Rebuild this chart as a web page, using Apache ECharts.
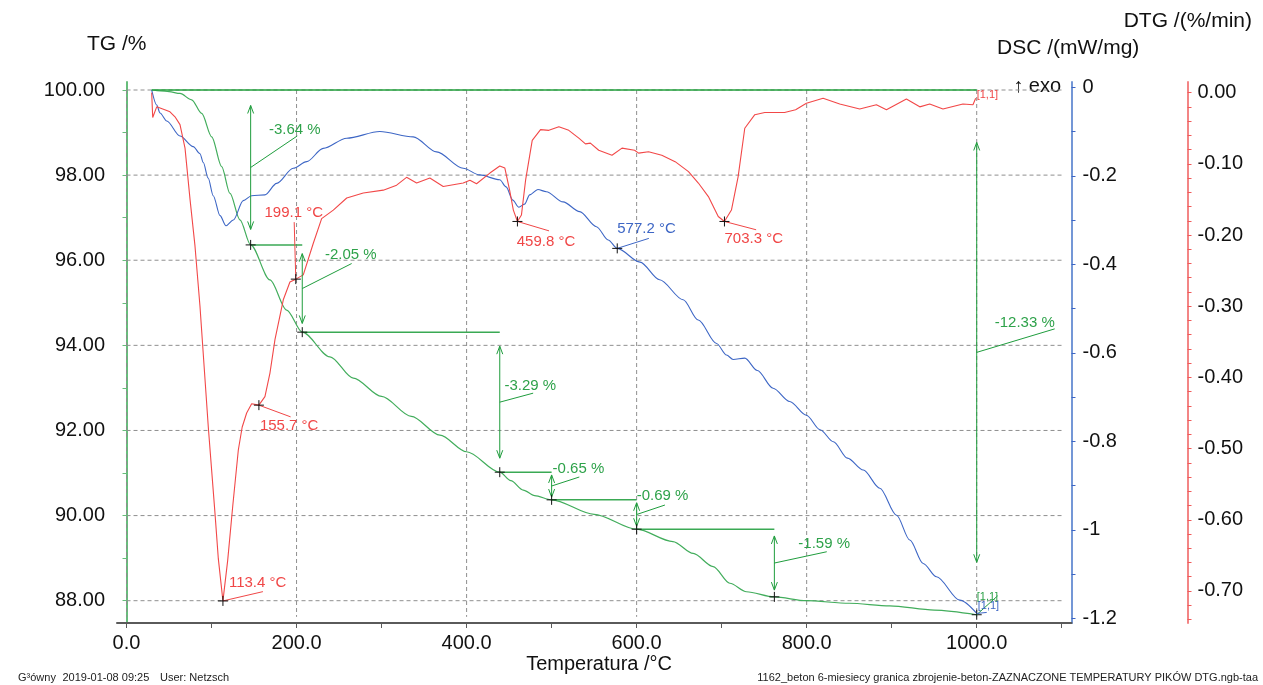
<!DOCTYPE html>
<html>
<head>
<meta charset="utf-8">
<title>TG DSC DTG</title>
<script src="https://cdn.jsdelivr.net/npm/echarts@6/dist/echarts.min.js"></script>
<style>
html,body{margin:0;padding:0;background:#fff;}
#chart{width:1263px;height:685px;}
</style>
</head>
<body>
<div id="chart"></div>
<script>
// ---------------- data ----------------
const tgData = [
[29.6,100.0],[40,99.98],[50,99.96],[62.9,99.92],[76.6,99.77],[88.4,99.45],[100.2,98.90],[111.9,98.20],
[121.7,97.57],[133.4,96.95],[146,96.36],[168.7,95.54],[188.4,94.83],[206.7,94.31],[239.3,93.73],
[266.7,93.23],[300,92.80],[335,92.33],[368.6,91.89],[400,91.50],[439,91.02],[452,90.82],[466.6,90.60],
[480,90.47],[500,90.37],[550,90.03],[600,89.68],[642.7,89.39],[666.5,89.11],[690,88.80],[709.6,88.41],
[729.2,88.21],[762,88.09],[799.7,88.00],[850,87.94],[897.7,87.88],[950,87.78],[1000,87.67]
];
const dscData = [
[29.6,-0.006],[35.5,-0.040],[39.4,-0.058],[47.3,-0.076],[62.9,-0.110],[78.5,-0.134],[86.4,-0.150],
[90.3,-0.170],[96,-0.205],[102,-0.245],[110,-0.290],[117,-0.313],[125.6,-0.300],[137.3,-0.256],
[147.2,-0.245],[162.8,-0.243],[176.6,-0.217],[196.1,-0.183],[211.9,-0.168],[231.4,-0.138],[259,-0.115],
[298,-0.100],[337.2,-0.112],[364.7,-0.146],[396,-0.183],[415.5,-0.198],[439,-0.209],[446.5,-0.225],
[454.3,-0.255],[461.5,-0.271],[468.2,-0.264],[474.2,-0.243],[483.9,-0.231],[493.8,-0.236],[513.5,-0.259],
[533,-0.281],[552.7,-0.315],[566.5,-0.345],[577.2,-0.364],[604,-0.395],[627,-0.435],[654.7,-0.480],
[672.5,-0.526],[694,-0.579],[705.7,-0.605],[713.5,-0.615],[727.2,-0.612],[742,-0.640],[760.5,-0.680],
[780,-0.710],[799.7,-0.741],[815.8,-0.774],[831.4,-0.801],[848,-0.838],[866.6,-0.865],[886,-0.906],
[905.7,-0.967],[921.3,-1.023],[937,-1.076],[952.7,-1.106],[980.1,-1.159],[1000,-1.189]
];
const dtgData = [
[29.6,0.0],[30.8,-0.035],[35.5,-0.020],[45,-0.024],[51.1,-0.027],[57,-0.034],[62.9,-0.045],[68.8,-0.078],
[74.7,-0.150],[80.5,-0.215],[86.4,-0.300],[96.2,-0.470],[104,-0.590],[108,-0.655],[113.4,-0.714],
[119,-0.657],[125,-0.580],[131.5,-0.502],[136,-0.470],[141.3,-0.450],[147.2,-0.437],[155.7,-0.439],
[162.8,-0.427],[168.7,-0.394],[174.6,-0.347],[184.4,-0.291],[192.2,-0.266],[199.1,-0.262],[207.9,-0.256],
[219.6,-0.212],[229.5,-0.177],[243.2,-0.165],[259,-0.148],[278.5,-0.141],[302,-0.137],[317.7,-0.130],
[329.4,-0.119],[341.2,-0.127],[356.8,-0.120],[372.5,-0.132],[396,-0.127],[403.9,-0.123],[411.7,-0.128],
[427.4,-0.113],[439,-0.103],[445,-0.106],[450.6,-0.137],[455,-0.165],[459.8,-0.181],[464.5,-0.172],
[469.4,-0.123],[477.2,-0.067],[487,-0.052],[496.8,-0.053],[508.5,-0.048],[520.2,-0.053],[532,-0.064],
[539.8,-0.072],[545.6,-0.071],[555.4,-0.081],[571,-0.088],[582.8,-0.078],[597.6,-0.081],[602.3,-0.085],
[614,-0.083],[629.6,-0.088],[645.3,-0.097],[661,-0.111],[672.6,-0.127],[684.4,-0.146],[696,-0.174],
[703.3,-0.181],[711.5,-0.165],[719.4,-0.118],[727.2,-0.050],[739,-0.031],[750.7,-0.028],[774,-0.028],
[787,-0.024],[799.7,-0.015],[819.3,-0.008],[838.9,-0.016],[862.4,-0.023],[882,-0.017],[893.8,-0.024],
[917.3,-0.009],[933,-0.020],[944.7,-0.016],[960.3,-0.023],[983.8,-0.016],[995.6,-0.017],[998.8,-0.008]
];
// TG mass-loss steps
const tgSteps = [
 {t:146,   from:100.00, to:96.36, label:'-3.64 %',  hEnd:206.7},
 {t:206.7, from:96.36,  to:94.31, label:'-2.05 %',  hEnd:439},
 {t:439,   from:94.31,  to:91.02, label:'-3.29 %',  hEnd:500},
 {t:500,   from:91.02,  to:90.37, label:'-0.65 %',  hEnd:600},
 {t:600,   from:90.37,  to:89.68, label:'-0.69 %',  hEnd:762},
 {t:762,   from:89.68,  to:88.09, label:'-1.59 %'},
 {t:1000,  from:100.00, to:87.67, label:'-12.33 %', hStart:29.6}
];
// DTG / DSC peaks
const dtgPeaks = [
 {t:113.4, v:-0.714, label:'113.4 °C'},
 {t:155.7, v:-0.439, label:'155.7 °C'},
 {t:199.1, v:-0.262, label:'199.1 °C'},
 {t:459.8, v:-0.181, label:'459.8 °C'},
 {t:703.3, v:-0.181, label:'703.3 °C'}
];
const dscPeaks = [ {t:577.2, v:-0.364, label:'577.2 °C'} ];
// axis ticks / labels
const xLabelValues = [0,200,400,600,800,1000];
const xTickValues = [0,100,200,300,400,500,600,700,800,900,1000,1100];
const tgLabelValues = [88,90,92,94,96,98,100];
const tgTickValues = [88,89,90,91,92,93,94,95,96,97,98,99,100];
const dscLabelValues = [0,-0.2,-0.4,-0.6,-0.8,-1,-1.2];
const dscTickValues = [0,-0.1,-0.2,-0.3,-0.4,-0.5,-0.6,-0.7,-0.8,-0.9,-1,-1.1,-1.2];
const dtgLabelValues = [0,-0.1,-0.2,-0.3,-0.4,-0.5,-0.6,-0.7];
const dtgTickValues = [0,-0.02,-0.04,-0.06,-0.08,-0.1,-0.12,-0.14,-0.16,-0.18,-0.2,-0.22,-0.24,-0.26,-0.28,
 -0.3,-0.32,-0.34,-0.36,-0.38,-0.4,-0.42,-0.44,-0.46,-0.48,-0.5,-0.52,-0.54,-0.56,-0.58,-0.6,-0.62,-0.64,
 -0.66,-0.68,-0.7,-0.72,-0.74];
const gridXValues = [0,200,400,600,800,1000];
const gridYValues = [88,90,92,94,96,98,100];

// ---------------- style / layout ----------------
const FONT = '"Liberation Sans", Arial, Helvetica, sans-serif';
const C_TG = '#42ad5c', C_ANN = '#1f9d3d', C_ANN_H = '#3aa954', C_DSC = '#3d66c5', C_DTG = '#f24848';
const GRID_BOX = {x0:0, x1:1100, y0:87.62, y1:100};
const stepLayout = [
 {lx:46.6, ly:-31.5, tx:18.3, ty:-38},
 {lx:49.4, ly:-25,   tx:22.7, ty:-33.3},
 {lx:33.4, ly:-9,    tx:4.7,  ty:-16.7},
 {lx:27.7, ly:-9,    tx:1,    ty:-17.5},
 {lx:28.3, ly:-9.5,  tx:0,    ty:-18.5},
 {lx:52.4, ly:-11.3, tx:24,   ty:-19},
 {lx:78,   ly:-23.5, tx:18,   ty:-29.5}
];
const dtgPeakLayout = [
 {lx:40,   ly:-9.3, tx:6,    ty:-18,   align:'left'},
 {lx:31.7, ly:11.7, tx:1,    ty:21,    align:'left'},
 {lx:-1.6, ly:-57,  tx:-2,   ty:-66,   align:'center'},
 {lx:31.6, ly:9.4,  tx:-0.7, ty:20,    align:'left'},
 {lx:31.7, ly:8.3,  tx:0,    ty:17.6,  align:'left'}
];
const dscPeakLayout = [ {lx:31.6, ly:-10, tx:0, ty:-20, align:'left'} ];

function seg(a,b,color,w){return {type:'line',shape:{x1:a[0],y1:a[1],x2:b[0],y2:b[1]},style:{stroke:color,lineWidth:w||1}};}
function pl(points,color){return {type:'polyline',shape:{points:points},style:{stroke:color,fill:'none',lineWidth:1}};}
function cross(p){return [seg([p[0]-5,p[1]],[p[0]+5,p[1]],'#111'),seg([p[0],p[1]-5],[p[0],p[1]+5],'#111')];}
function txt(x,y,text,color,size,align){return {type:'text',x:x,y:y,style:{text:text,fill:color,font:size+'px '+FONT,align:align||'left',verticalAlign:'middle'}};}

function gridRender(params, api){
  const kind = api.value(2);
  let a,b;
  if(kind===0){a=api.coord([api.value(0),GRID_BOX.y1]);b=api.coord([api.value(0),GRID_BOX.y0]);}
  else{a=api.coord([GRID_BOX.x0,api.value(1)]);b=api.coord([GRID_BOX.x1,api.value(1)]);}
  return {type:'line',shape:{x1:a[0],y1:a[1],x2:b[0],y2:b[1]},style:{stroke:'#8f8f8f',lineWidth:1,lineDash:[4,3]}};
}
function stepRender(params, api){
  const s = tgSteps[params.dataIndex], L = stepLayout[params.dataIndex];
  const d = s.from - s.to;
  const top = api.coord([s.t, s.from - 0.1*d]);
  const bot = api.coord([s.t, s.to + 0.1*d]);
  const mk = api.coord([s.t, s.to]);
  const ch = [];
  if(s.hStart!=null){ ch.push(seg(api.coord([s.hStart,s.from]), api.coord([s.t,s.from]), '#22a03c', 1.5)); }
  if(s.hEnd!=null){ ch.push(seg(mk, api.coord([s.hEnd,s.to]), C_ANN_H, 1.5)); }
  ch.push(seg(top,bot,C_ANN,1));
  ch.push(pl([[top[0]-3,top[1]+8],[top[0],top[1]],[top[0]+3,top[1]+8]],C_ANN));
  ch.push(pl([[bot[0]-3,bot[1]-8],[bot[0],bot[1]],[bot[0]+3,bot[1]-8]],C_ANN));
  const mid=[top[0],(top[1]+bot[1])/2];
  ch.push(seg(mid,[mid[0]+L.lx,mid[1]+L.ly],C_ANN,1));
  ch.push(txt(mid[0]+L.tx,mid[1]+L.ty,s.label,'#2ea24a',15,'left'));
  cross(mk).forEach(c=>ch.push(c));
  if(params.dataIndex===tgSteps.length-1){
    ch.push(seg(mk,[mk[0]+21,mk[1]-19],C_ANN,1));
    ch.push(txt(mk[0],mk[1]-18,'[1,1]','#2ea24a',11,'left'));
  }
  return {type:'group',children:ch};
}
function peakRenderFactory(peaks, layout, color){
  return function(params, api){
    const p = peaks[params.dataIndex], L = layout[params.dataIndex];
    const m = api.coord([p.t,p.v]);
    const ch = [seg(m,[m[0]+L.lx,m[1]+L.ly],color,1)];
    ch.push(txt(m[0]+L.tx,m[1]+L.ty,p.label,color,15,L.align));
    cross(m).forEach(c=>ch.push(c));
    return {type:'group',children:ch};
  };
}
function endLabelRender(color, dy, leader){
  return function(params, api){
    const m = api.coord([api.value(0),api.value(1)]);
    const ch=[txt(m[0]+1,m[1]+dy,'[1,1]',color,11,'left')];
    if(leader) ch.push(seg(m,[m[0]+leader[0],m[1]+leader[1]],color,1));
    return {type:'group',children:ch};
  };
}

const gridItems = gridXValues.map(x=>[x,100,0]).concat(gridYValues.map(y=>[0,y,1]));
const lastDtg = dtgData[dtgData.length-1], lastDsc = dscData[dscData.length-1];

const axisLabelBase = {color:'#111', fontSize:20, fontFamily:FONT};
const option = {
  animation:false,
  backgroundColor:'#fff',
  grid:{left:117, right:191.5, top:82, bottom:62, containLabel:false},
  xAxis:{
    type:'value', min:-11.2, max:1111.5,
    axisLine:{show:true, onZero:false, lineStyle:{color:'#5a5a5a', width:2}},
    axisTick:{show:true, customValues:xTickValues, length:5, lineStyle:{color:'#5a5a5a', width:1}},
    axisLabel:Object.assign({customValues:xLabelValues, margin:10, formatter:v=>v.toFixed(1)}, axisLabelBase),
    splitLine:{show:false}
  },
  yAxis:[
    {type:'value', position:'left', min:87.476, max:100.188,
     axisLine:{show:true, lineStyle:{color:'#67bd7b', width:2}},
     axisTick:{show:true, customValues:tgTickValues, length:4, lineStyle:{color:'#67bd7b', width:1}},
     axisLabel:Object.assign({customValues:tgLabelValues, margin:12, formatter:v=>v.toFixed(2)}, axisLabelBase),
     splitLine:{show:false}},
    {type:'value', position:'right', offset:0, min:-1.2106, max:0.012,
     axisLine:{show:true, lineStyle:{color:'#7497d6', width:2}},
     axisTick:{show:true, customValues:dscTickValues, length:4, lineStyle:{color:'#3d66c5', width:1}},
     axisLabel:Object.assign({customValues:dscLabelValues, margin:11, formatter:v=>String(Number(v.toFixed(1)))}, axisLabelBase),
     splitLine:{show:false}},
    {type:'value', position:'right', offset:116, min:-0.745, max:0.0149,
     axisLine:{show:true, lineStyle:{color:'#f38585', width:2}},
     axisTick:{show:true, customValues:dtgTickValues, length:4, lineStyle:{color:'#f05a5a', width:1}},
     axisLabel:Object.assign({customValues:dtgLabelValues, margin:10, formatter:v=>v.toFixed(2)}, axisLabelBase),
     splitLine:{show:false}}
  ],
  series:[
    {type:'custom', name:'grid', yAxisIndex:0, z:1, silent:true, renderItem:gridRender, data:gridItems},
    {type:'line', name:'TG', yAxisIndex:0, z:3, data:tgData, showSymbol:false, smooth:0.3, smoothMonotone:'x',
     lineStyle:{color:C_TG, width:1.2}, silent:true},
    {type:'line', name:'DSC', yAxisIndex:1, z:3, data:dscData, showSymbol:false, smooth:0.3, smoothMonotone:'x',
     lineStyle:{color:C_DSC, width:1.1}, silent:true},
    {type:'line', name:'DTG', yAxisIndex:2, z:3, data:dtgData, showSymbol:false, smooth:false,
     lineStyle:{color:C_DTG, width:1.1}, silent:true},
    {type:'custom', name:'steps', yAxisIndex:0, z:5, silent:true, renderItem:stepRender,
     data:tgSteps.map(s=>[s.t,s.to])},
    {type:'custom', name:'dtgPeaks', yAxisIndex:2, z:5, silent:true,
     renderItem:peakRenderFactory(dtgPeaks,dtgPeakLayout,'#f04646'), data:dtgPeaks.map(p=>[p.t,p.v])},
    {type:'custom', name:'dscPeaks', yAxisIndex:1, z:5, silent:true,
     renderItem:peakRenderFactory(dscPeaks,dscPeakLayout,C_DSC), data:dscPeaks.map(p=>[p.t,p.v])},
    {type:'custom', name:'dtgEnd', yAxisIndex:2, z:5, silent:true,
     renderItem:endLabelRender('#f04646',-3,null), data:[lastDtg]},
    {type:'custom', name:'dscEnd', yAxisIndex:1, z:5, silent:true,
     renderItem:endLabelRender(C_DSC,-7,[10,-1]), data:[lastDsc]}
  ],
  graphic:[
    {type:'text', left:null, x:116.7, y:44.7, style:{text:'TG /%', fill:'#111', font:'21px '+FONT, align:'center', verticalAlign:'middle'}},
    {type:'text', x:997, y:48.3, style:{text:'DSC /(mW/mg)', fill:'#111', font:'21px '+FONT, align:'left', verticalAlign:'middle'}},
    {type:'text', x:1252, y:21.7, style:{text:'DTG /(%/min)', fill:'#111', font:'21px '+FONT, align:'right', verticalAlign:'middle'}},
    {type:'text', x:672, y:664, style:{text:'Temperatura /°C', fill:'#111', font:'20px '+FONT, align:'right', verticalAlign:'middle'}},
    {type:'text', x:1061, y:86, style:{text:'↑ exo', fill:'#111', font:'20px '+FONT, align:'right', verticalAlign:'middle'}},
    {type:'text', x:18, y:678.3, style:{text:'G³ówny', fill:'#222', font:'11px '+FONT, align:'left', verticalAlign:'middle'}},
    {type:'text', x:149.3, y:678.3, style:{text:'2019-01-08 09:25', fill:'#222', font:'11px '+FONT, align:'right', verticalAlign:'middle'}},
    {type:'text', x:160, y:678.3, style:{text:'User: Netzsch', fill:'#222', font:'11px '+FONT, align:'left', verticalAlign:'middle'}},
    {type:'text', x:1258, y:678.3, style:{text:'1162_beton 6-miesiecy granica zbrojenie-beton-ZAZNACZONE TEMPERATURY PIKÓW DTG.ngb-taa', fill:'#222', font:'11px '+FONT, align:'right', verticalAlign:'middle'}}
  ]
};
const chart = echarts.init(document.getElementById('chart'), null, {renderer:'canvas'});
chart.setOption(option);
</script>
</body>
</html>
